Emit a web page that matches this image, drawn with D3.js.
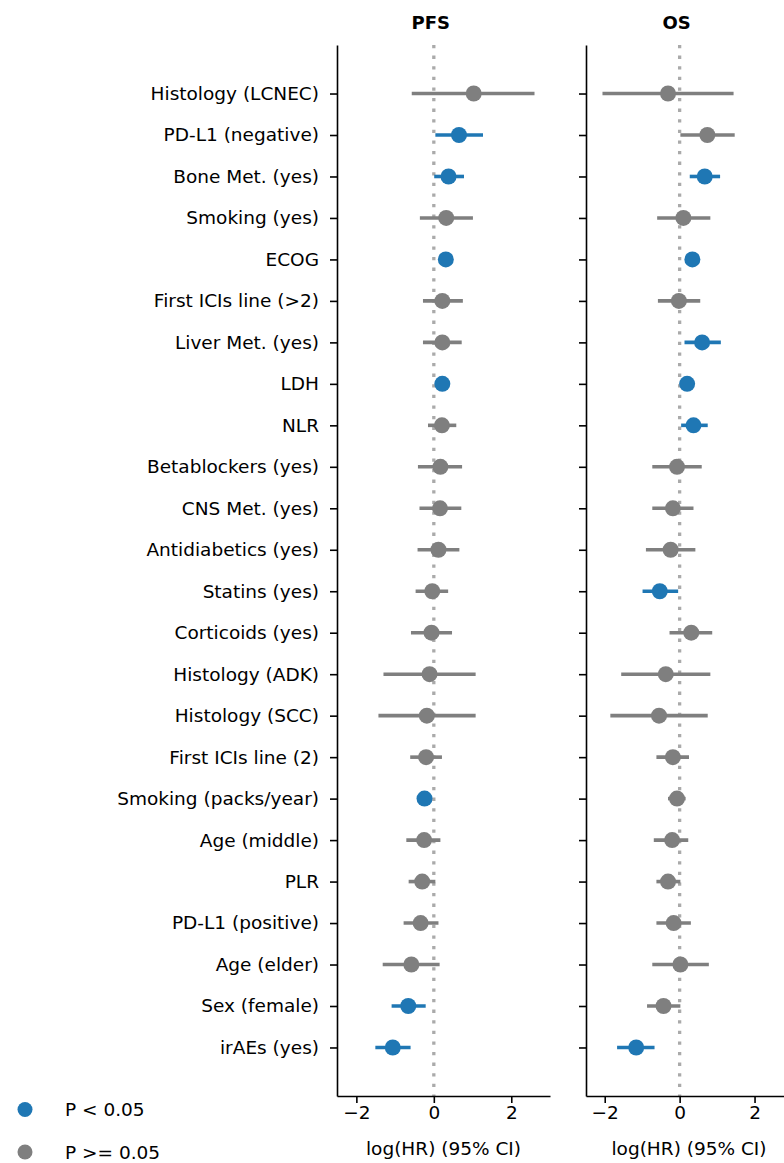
<!DOCTYPE html>
<html>
<head>
<meta charset="utf-8">
<script src="https://cdn.jsdelivr.net/npm/d3@7"></script>
<style>
  body { margin: 0; background: #fff; }
  text { font-family: "DejaVu Sans", sans-serif; }
</style>
</head>
<body>
<div id="chart"></div>
<script>
// variables, top to bottom
var categories = ["Histology (LCNEC)", "PD-L1 (negative)", "Bone Met. (yes)", "Smoking (yes)", "ECOG",
  "First ICIs line (>2)", "Liver Met. (yes)", "LDH", "NLR", "Betablockers (yes)", "CNS Met. (yes)",
  "Antidiabetics (yes)", "Statins (yes)", "Corticoids (yes)", "Histology (ADK)", "Histology (SCC)",
  "First ICIs line (2)", "Smoking (packs/year)", "Age (middle)", "PLR", "PD-L1 (positive)",
  "Age (elder)", "Sex (female)", "irAEs (yes)"];

// PFS: log(HR) and 95% CI
var pfsEst  = [1.03, 0.65, 0.38, 0.32, 0.31, 0.22, 0.22, 0.22, 0.21, 0.17, 0.16, 0.12, -0.04, -0.06, -0.11, -0.18, -0.20, -0.24, -0.25, -0.30, -0.34, -0.58, -0.66, -1.06];
var pfsLow  = [-0.57, 0.04, 0.01, -0.36, 0.22, -0.28, -0.28, 0.14, -0.15, -0.41, -0.37, -0.42, -0.47, -0.59, -1.30, -1.43, -0.61, -0.38, -0.71, -0.65, -0.78, -1.32, -1.09, -1.51];
var pfsHigh = [2.60, 1.27, 0.78, 1.01, 0.40, 0.75, 0.72, 0.30, 0.58, 0.73, 0.71, 0.66, 0.37, 0.47, 1.08, 1.08, 0.21, -0.10, 0.17, 0.04, 0.12, 0.15, -0.21, -0.60];
var pfsSig  = [0, 1, 1, 0, 1, 0, 0, 1, 0, 0, 0, 0, 0, 0, 0, 0, 0, 1, 0, 0, 0, 0, 1, 1];

// OS: log(HR) and 95% CI
var osEst  = [-0.31, 0.74, 0.67, 0.10, 0.34, -0.02, 0.60, 0.20, 0.37, -0.07, -0.18, -0.24, -0.53, 0.31, -0.37, -0.55, -0.18, -0.07, -0.20, -0.31, -0.16, 0.02, -0.43, -1.16];
var osLow  = [-2.06, 0.02, 0.27, -0.60, 0.25, -0.58, 0.13, 0.12, 0.04, -0.73, -0.73, -0.90, -0.99, -0.27, -1.56, -1.85, -0.62, -0.31, -0.69, -0.62, -0.62, -0.73, -0.87, -1.67];
var osHigh = [1.44, 1.47, 1.08, 0.82, 0.44, 0.55, 1.10, 0.28, 0.75, 0.59, 0.37, 0.42, -0.04, 0.87, 0.82, 0.75, 0.25, 0.16, 0.23, 0.02, 0.30, 0.78, 0.02, -0.67];
var osSig  = [0, 0, 1, 0, 1, 0, 1, 1, 1, 0, 0, 0, 1, 0, 0, 0, 0, 0, 0, 0, 0, 0, 0, 1];

var xTicks = [-2, 0, 2];
var xDomain = [-2.5, 3.0];
var legendLabels = ["P < 0.05", "P >= 0.05"];

var blue = "#1f77b4", grey = "#7f7f7f";
var fs = 18.5;

var svg = d3.select("#chart").append("svg")
  .attr("width", 784)
  .attr("height", 1163);

var yTop = 45, yBottom = 1096;

var y = d3.scalePoint()
  .domain(categories)
  .range([yTop, yBottom])
  .padding(1.17);

function drawPanel(left, right, title, est, low, high, sig, showLabels) {
  var x = d3.scaleLinear().domain(xDomain).range([left, right]);

  var rows = categories.map(function(c, i) {
    return {cat: c, est: est[i], low: low[i], high: high[i], sig: sig[i]};
  });

  var g = svg.append("g");

  // reference line at 0
  g.append("line")
    .attr("x1", x(0)).attr("x2", x(0))
    .attr("y1", yTop).attr("y2", yBottom)
    .attr("stroke", "#aaaaaa")
    .attr("stroke-width", 3.3)
    .attr("stroke-dasharray", "3.3,7.3");

  // CI lines
  g.selectAll(".ci")
    .data(rows)
    .enter().append("line")
      .attr("class", "ci")
      .attr("x1", function(d) { return x(d.low); })
      .attr("x2", function(d) { return x(d.high); })
      .attr("y1", function(d) { return y(d.cat); })
      .attr("y2", function(d) { return y(d.cat); })
      .attr("stroke", function(d) { return d.sig ? blue : grey; })
      .attr("stroke-width", 3.6);

  // estimates
  g.selectAll(".pt")
    .data(rows)
    .enter().append("circle")
      .attr("class", "pt")
      .attr("cx", function(d) { return x(d.est); })
      .attr("cy", function(d) { return y(d.cat); })
      .attr("r", 8)
      .attr("fill", function(d) { return d.sig ? blue : grey; });

  // y axis
  var ya = g.append("g")
    .attr("transform", "translate(" + left + ",0)")
    .call(d3.axisLeft(y).tickSize(7).tickSizeOuter(0).tickPadding(11));
  ya.selectAll("text")
    .attr("font-size", fs)
    .attr("font-family", "DejaVu Sans")
    .attr("fill", "#000");
  if (!showLabels) ya.selectAll("text").remove();

  // x axis
  var xa = g.append("g")
    .attr("transform", "translate(0," + yBottom + ")")
    .call(d3.axisBottom(x).tickValues(xTicks).tickFormat(d3.format("d"))
      .tickSize(7).tickSizeOuter(0).tickPadding(3));
  xa.selectAll("text")
    .attr("font-size", fs)
    .attr("font-family", "DejaVu Sans")
    .attr("fill", "#000");

  [ya, xa].forEach(function(a) {
    a.select(".domain").attr("stroke", "#000").attr("stroke-width", 1.6);
    a.selectAll(".tick line").attr("stroke", "#000").attr("stroke-width", 1.6);
  });

  g.append("text")
    .attr("x", (left + right) / 2)
    .attr("y", 1155)
    .attr("text-anchor", "middle")
    .attr("font-size", fs)
    .attr("fill", "#000")
    .text("log(HR) (95% CI)");

  g.append("text")
    .attr("x", x(0) - 3)
    .attr("y", 29)
    .attr("text-anchor", "middle")
    .attr("font-size", 18)
    .attr("font-weight", "bold")
    .attr("fill", "#000")
    .text(title);
}

drawPanel(337, 550, "PFS", pfsEst, pfsLow, pfsHigh, pfsSig, true);
drawPanel(586, 792, "OS", osEst, osLow, osHigh, osSig, false);

// legend
var legend = svg.append("g")
  .selectAll("g")
  .data(legendLabels)
  .enter().append("g")
    .attr("transform", function(d, i) { return "translate(25," + (1109.5 + i * 42.5) + ")"; });

legend.append("circle")
  .attr("r", 7.5)
  .attr("fill", function(d, i) { return i == 0 ? blue : grey; });

legend.append("text")
  .attr("x", 40)
  .attr("y", 6.5)
  .attr("font-size", fs)
  .attr("fill", "#000")
  .text(function(d) { return d; });
</script>
</body>
</html>
